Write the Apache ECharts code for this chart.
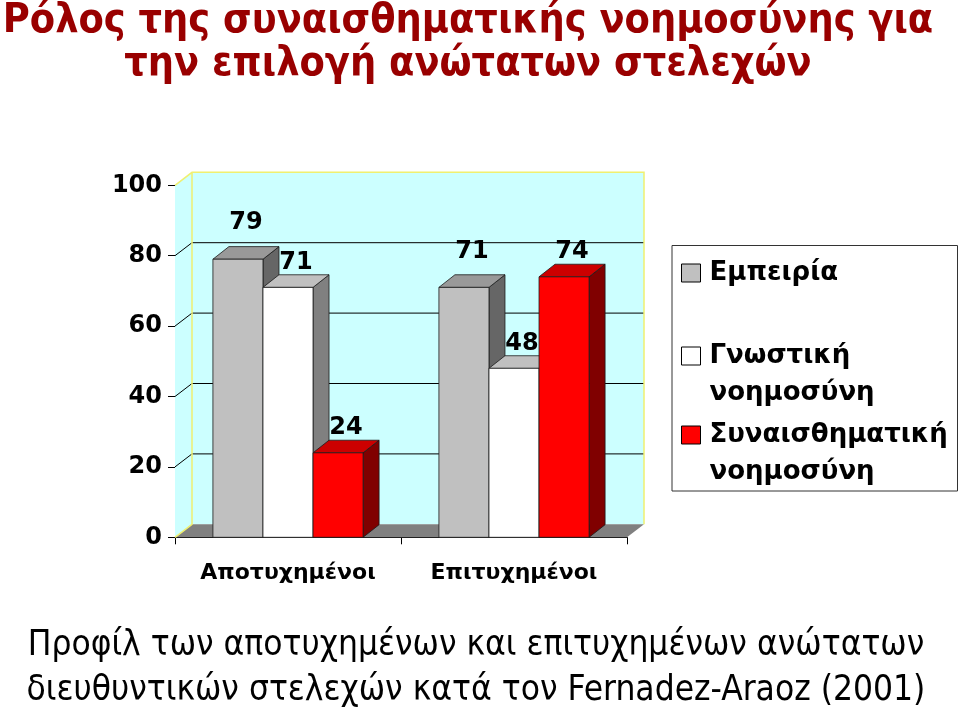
<!DOCTYPE html>
<html>
<head>
<meta charset="utf-8">
<script src="https://cdn.jsdelivr.net/npm/echarts@6/dist/echarts.min.js"></script>
<style>
html,body{margin:0;padding:0;background:#fff;}
#chart{width:960px;height:710px;}
</style>
</head>
<body>
<div id="chart"></div>
<script>
// ---- data ----
const categories = ['Αποτυχημένοι', 'Επιτυχημένοι'];
const seriesNames = ['Εμπειρία', 'Γνωστική νοημοσύνη', 'Συναισθηματική νοημοσύνη'];
const experience = [79, 71];
const cognitive = [71, 48];
const emotional = [24, 74];
const yTicks = [0, 20, 40, 60, 80, 100];
const titleLines = ['Ρόλος της συναισθηματικής νοημοσύνης για', 'την επιλογή ανώτατων στελεχών'];
const captionLines = ['Προφίλ των αποτυχημένων και επιτυχημένων ανώτατων', 'διευθυντικών στελεχών κατά τον Fernadez-Araoz (2001)'];

// ---- styles ----
const faceColors = [
  { front: '#C0C0C0', top: '#999999', side: '#666666' },
  { front: '#FFFFFF', top: '#C0C0C0', side: '#808080' },
  { front: '#FF0000', top: '#CC0000', side: '#800000' }
];
const labelLift = [36, 25, 25];
const WALL_DX = 17, WALL_DY = -13;
const BAR_DX = 16, BAR_DY = -12.6;
const seriesValues = [experience, cognitive, emotional];

const chart = echarts.init(document.getElementById('chart'), null, { renderer: 'canvas' });

function renderWalls(params, api) {
  const cs = params.coordSys;
  const x0 = cs.x, x1 = cs.x + cs.width;
  const yBase = api.coord([0, 0])[1];
  const yTop = api.coord([0, yTicks[yTicks.length - 1]])[1];
  const bx0 = x0 + WALL_DX, bx1 = x1 + WALL_DX;
  const children = [];
  children.push({ type: 'polygon', shape: { points: [[x0, yTop], [bx0, yTop + WALL_DY], [bx0, yBase + WALL_DY], [x0, yBase]] },
    style: { fill: '#CCFFFF', stroke: null } });
  children.push({ type: 'rect', shape: { x: bx0, y: yTop + WALL_DY, width: bx1 - bx0, height: yBase - yTop },
    style: { fill: '#CCFFFF', stroke: null } });
  children.push({ type: 'polygon', shape: { points: [[x0, yBase], [bx0, yBase + WALL_DY], [bx1, yBase + WALL_DY], [x1, yBase]] },
    style: { fill: '#808080', stroke: null } });
  yTicks.forEach(function (v) {
    if (v === 0 || v === yTicks[yTicks.length - 1]) return;
    const y = api.coord([0, v])[1];
    children.push({ type: 'polyline', shape: { points: [[x0, y], [bx0, y + WALL_DY], [bx1, y + WALL_DY]] },
      style: { stroke: '#000', lineWidth: 1, fill: null } });
  });
  children.push({ type: 'polyline', shape: { points: [[x0, yTop], [bx0, yTop + WALL_DY], [bx1, yTop + WALL_DY], [bx1, yBase + WALL_DY]] },
    style: { stroke: '#F0F070', lineWidth: 1.5, fill: null } });
  children.push({ type: 'polyline', shape: { points: [[bx0, yTop + WALL_DY], [bx0, yBase + WALL_DY], [x0, yBase]] },
    style: { stroke: '#F0F070', lineWidth: 1.5, fill: null } });
  return { type: 'group', children: children, silent: true };
}

function makeBarRenderer(k) {
  return function (params, api) {
    const ci = api.value(0), v = api.value(1);
    const top = api.coord([ci, v]);
    const base = api.coord([ci, 0]);
    const bandW = api.size([1, 0])[0];
    const bw = bandW * 0.2215;
    const x0 = top[0] - 1.5 * bw + k * bw;
    const x1 = x0 + bw;
    const yT = top[1], yB = base[1];
    const c = faceColors[k];
    const stroke = { stroke: '#1a1a1a', lineWidth: 0.8 };
    return {
      type: 'group',
      children: [
        { type: 'polygon', shape: { points: [[x1, yT], [x1 + BAR_DX, yT + BAR_DY], [x1 + BAR_DX, yB + BAR_DY], [x1, yB]] },
          style: Object.assign({ fill: c.side }, stroke) },
        { type: 'polygon', shape: { points: [[x0, yT], [x0 + BAR_DX, yT + BAR_DY], [x1 + BAR_DX, yT + BAR_DY], [x1, yT]] },
          style: Object.assign({ fill: c.top }, stroke) },
        { type: 'rect', shape: { x: x0, y: yT, width: bw, height: yB - yT },
          style: Object.assign({ fill: c.front }, stroke) },
        { type: 'text', z2: 100,
          style: { text: String(v), x: (x0 + x1) / 2 + BAR_DX / 2, y: yT - labelLift[k],
            align: 'center', verticalAlign: 'middle', fill: '#000',
            font: 'bold 24px "DejaVu Sans", Verdana, sans-serif' } }
      ]
    };
  };
}

const series = [{
  type: 'custom', name: 'walls', silent: true, z: 1,
  renderItem: renderWalls, data: [[0, 0]], encode: { x: 0, y: 1 }, clip: false
}];
seriesNames.forEach(function (name, k) {
  series.push({
    type: 'custom', name: name, z: 3, clip: false,
    itemStyle: { color: faceColors[k].front, borderColor: '#000', borderWidth: 1 },
    renderItem: makeBarRenderer(k),
    encode: { x: 0, y: 1 },
    data: categories.map(function (c, i) { return [i, seriesValues[k][i]]; })
  });
});

const legendText = { color: '#000', fontFamily: '"DejaVu Sans", Verdana, sans-serif', fontWeight: 'bold', fontSize: 26, lineHeight: 37, padding: [0, 0, 0, 4] };
function legendFor(name, top, multi) {
  return {
    data: [name], orient: 'vertical', left: 681, top: top, padding: 0,
    icon: 'rect', itemWidth: 19, itemHeight: 18, itemGap: 0,
    itemStyle: { borderColor: '#000', borderWidth: 1 },
    selectedMode: false,
    formatter: function (n) { return multi ? '\n' + n.replace(' ', '\n') : n; },
    textStyle: legendText
  };
}

const option = {
  animation: false,
  backgroundColor: '#fff',
  title: [
    { text: titleLines.join('\n'), left: 468, textAlign: 'center', top: 0, padding: 0,
      textStyle: { color: '#990000', fontFamily: '"DejaVu Sans Condensed", "DejaVu Sans", sans-serif', fontWeight: 'bold', fontSize: 41, lineHeight: 43 } },
    { text: captionLines.join('\n'), left: 476, textAlign: 'center', top: 623, padding: 0,
      textStyle: { color: '#000', fontFamily: '"DejaVu Sans Condensed", "DejaVu Sans", sans-serif', fontWeight: 'normal', fontSize: 35, lineHeight: 45 } }
  ],
  legend: [
    legendFor(seriesNames[0], 254.5, false),
    legendFor(seriesNames[1], 300.5, true),
    legendFor(seriesNames[2], 379.5, true)
  ],
  graphic: [{
    type: 'rect', silent: true,
    shape: { x: 672, y: 245.5, width: 285.5, height: 245.5 },
    style: { fill: null, stroke: '#333', lineWidth: 1 }
  }],
  grid: { left: 175, right: 333, top: 185.3, bottom: 172.7, containLabel: false },
  xAxis: {
    type: 'category', data: categories,
    axisLine: { show: true, lineStyle: { color: '#000', width: 1 } },
    axisTick: { show: true, length: 7, interval: 0, lineStyle: { color: '#000' } },
    axisLabel: { interval: 0, hideOverlap: false, margin: 25, color: '#000', fontFamily: '"DejaVu Sans", Verdana, sans-serif', fontWeight: 'bold', fontSize: 22 }
  },
  yAxis: {
    type: 'value', min: 0, max: 100, interval: 20,
    splitLine: { show: false },
    axisLine: { show: true, lineStyle: { color: '#000', width: 1 } },
    axisTick: { show: true, length: 7, lineStyle: { color: '#000' } },
    axisLabel: { margin: 13, color: '#000', fontFamily: '"DejaVu Sans", Verdana, sans-serif', fontWeight: 'bold', fontSize: 24 }
  },
  series: series
};
chart.setOption(option);
</script>
</body>
</html>
